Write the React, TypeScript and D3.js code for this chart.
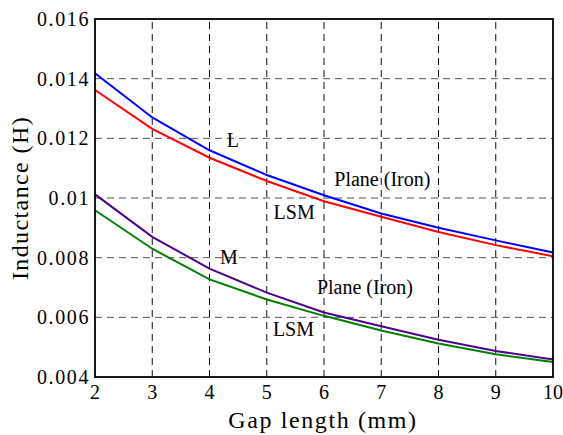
import React from "react";
import * as d3 from "d3";

const gaps = [2, 3, 4, 5, 6, 7, 8, 9, 10];
const lPlane = [0.01418, 0.0127, 0.0116, 0.01077, 0.01009, 0.00948, 0.009, 0.00858, 0.00817];
const lLsm = [0.01362, 0.01232, 0.01135, 0.01057, 0.00989, 0.00937, 0.00886, 0.00842, 0.00805];
const mPlane = [0.01012, 0.0087, 0.00763, 0.00683, 0.00616, 0.0057, 0.00525, 0.00487, 0.00459];
const mLsm = [0.00959, 0.0083, 0.00727, 0.0066, 0.00605, 0.00556, 0.00512, 0.00476, 0.0045];
const yTicks = [0.004, 0.006, 0.008, 0.01, 0.012, 0.014, 0.016];
const yTickLabels = ["0.004", "0.006", "0.008", "0.01", "0.012", "0.014", "0.016"];

const series = [
  { values: lPlane, color: "#0000ff" },
  { values: lLsm, color: "#ff0000" },
  { values: mPlane, color: "#4b0090" },
  { values: mLsm, color: "#008000" },
];

// annotation anchors in data units (text start, baseline)
const labels = [
  { text: "L", x: 4.3, y: 0.01172 },
  { text: "Plane (Iron)", x: 6.18, y: 0.0104 },
  { text: "LSM", x: 5.12, y: 0.00931 },
  { text: "M", x: 4.185, y: 0.0078 },
  { text: "Plane (Iron)", x: 5.876, y: 0.00677 },
  { text: "LSM", x: 5.107, y: 0.00537 },
];

const W = 563;
const H = 435;
const margin = { top: 19, right: 10, bottom: 58, left: 95 };

const font = "Times New Roman, Times, Liberation Serif, Tinos, DejaVu Serif, Noto Serif, serif";

export default function App() {
  const x = d3
    .scaleLinear()
    .domain([2, 10])
    .range([margin.left, W - margin.right]);
  const y = d3
    .scaleLinear()
    .domain([0.004, 0.016])
    .range([H - margin.bottom, margin.top]);

  const line = d3
    .line<number>()
    .x((d, i) => x(gaps[i]))
    .y((d) => y(d));

  return (
    <svg
      width={W}
      height={H}
      style={{ position: "absolute", left: 0, top: 0, background: "#fff" }}
      fontFamily={font}
    >
      {/* grid */}
      {gaps.slice(1, -1).map((g) => (
        <line
          key={"vx" + g}
          x1={x(g)}
          x2={x(g)}
          y1={y(0.004)}
          y2={y(0.016)}
          stroke="#111"
          strokeWidth={1}
          strokeDasharray="7,5"
        />
      ))}
      {yTicks.slice(1, -1).map((t) => (
        <line
          key={"hy" + t}
          x1={x(2)}
          x2={x(10)}
          y1={y(t)}
          y2={y(t)}
          stroke="#555"
          strokeWidth={1}
          strokeDasharray="7,5"
        />
      ))}

      {/* lines */}
      {series.map((s, i) => (
        <path key={i} d={line(s.values) || ""} fill="none" stroke={s.color} strokeWidth={2} />
      ))}

      {/* frame */}
      <rect
        x={x(2)}
        y={y(0.016)}
        width={x(10) - x(2)}
        height={y(0.004) - y(0.016)}
        fill="none"
        stroke="#000"
        strokeWidth={1.8}
      />

      {/* annotations */}
      {labels.map((l, i) => (
        <text key={i} x={x(l.x)} y={y(l.y)} fontSize={20} fill="#000" fontFamily={font}>
          {l.text}
        </text>
      ))}

      {/* y ticks */}
      {yTicks.map((t, i) => (
        <text
          key={"yt" + t}
          x={x(2) - 5}
          y={y(t)}
          dy="0.35em"
          textAnchor="end"
          fontSize={20}
          letterSpacing={1.6}
          fontFamily={font}
        >
          {yTickLabels[i]}
        </text>
      ))}

      {/* x ticks */}
      {gaps.map((g) => (
        <text key={"xt" + g} x={x(g)} y={399} textAnchor="middle" fontSize={20} fontFamily={font}>
          {g}
        </text>
      ))}

      <text
        x={(x(2) + x(10)) / 2 - 1}
        y={428}
        textAnchor="middle"
        fontSize={24}
        letterSpacing={1.6}
        fontFamily={font}
      >
        Gap length (mm)
      </text>
      <text
        transform={`translate(28,${(y(0.004) + y(0.016)) / 2}) rotate(-90)`}
        textAnchor="middle"
        fontSize={24}
        letterSpacing={1.4}
        fontFamily={font}
      >
        Inductance (H)
      </text>
    </svg>
  );
}
